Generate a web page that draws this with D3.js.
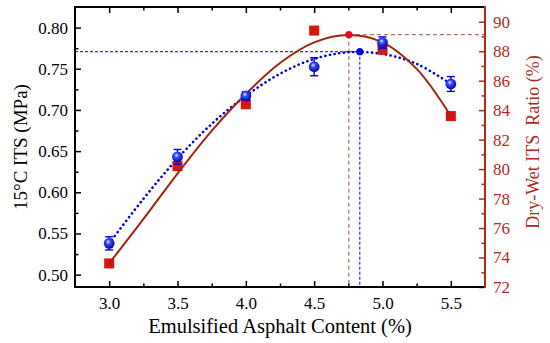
<!DOCTYPE html>
<html><head><meta charset="utf-8">
<script src="https://cdn.jsdelivr.net/npm/d3@7"></script>
<style>
body{margin:0;background:#fff;}
svg text{font-family:"Liberation Serif","DejaVu Serif",serif !important;}
</style></head>
<body><svg id="c" width="550" height="343"></svg>
<script>
// ---- data ----
const content = [3.0, 3.5, 4.0, 4.5, 5.0, 5.5];
const itsValues = [0.538, 0.643, 0.717, 0.7525, 0.7817, 0.7315];
const itsErrors = [0.008, 0.009, 0.005, 0.011, 0.007, 0.009];
const ratioValues = [73.6, 80.2, 84.4, 89.4, 88.1, 83.6];
const fitX = [3.0, 3.25, 3.5, 3.75, 4.0, 4.25, 4.5, 4.75, 5.0, 5.25, 5.5];
const itsFit = [0.538, 0.592, 0.641, 0.683, 0.717, 0.744, 0.762, 0.770, 0.768, 0.756, 0.7315];
const ratioFit = [73.6, 76.6, 79.7, 82.6, 85.1, 87.2, 88.6, 89.1, 88.6, 86.8, 83.6];
const itsPeak = [4.834, 0.7707];
const ratioPeak = [4.754, 89.12];
const xTicks = [3.0, 3.5, 4.0, 4.5, 5.0, 5.5];
const xMinor = [3.25, 3.75, 4.25, 4.75, 5.25];
const leftTicks = [0.50, 0.55, 0.60, 0.65, 0.70, 0.75, 0.80];
const leftMinor = [0.525, 0.575, 0.625, 0.675, 0.725, 0.775];
const rightTicks = [72, 74, 76, 78, 80, 82, 84, 86, 88, 90];
const rightMinor = [73, 75, 77, 79, 81, 83, 85, 87, 89];

const L = 75, R = 485, T = 7, B = 287;
const RED = "#b02a1c", BLUE = "#0000d0";
const FONT = "'Liberation Serif','DejaVu Serif',serif";
const svg = d3.select("#c");
const x = d3.scaleLinear([2.75, 5.75], [L, R]);
const yL = d3.scaleLinear([0.485, 0.825], [B, T]);
const yR = d3.scaleLinear([72, 91], [B, T]);

const defs = svg.append("defs");
const g = defs.append("radialGradient").attr("id","ball").attr("cx","45%").attr("cy","40%").attr("r","60%").attr("fx","40%").attr("fy","35%");
g.append("stop").attr("offset","0%").attr("stop-color","#e8f0ff");
g.append("stop").attr("offset","35%").attr("stop-color","#3a4cff");
g.append("stop").attr("offset","100%").attr("stop-color","#0000b0");

// guide lines
svg.append("line").attr("x1",L).attr("x2",x(itsPeak[0])).attr("y1",yL(itsPeak[1])).attr("y2",yL(itsPeak[1]))
  .attr("stroke",BLUE).attr("stroke-width",1).attr("stroke-dasharray","3 2");
svg.append("line").attr("x1",x(itsPeak[0])).attr("x2",x(itsPeak[0])).attr("y1",yL(itsPeak[1])).attr("y2",B)
  .attr("stroke",BLUE).attr("stroke-width",1).attr("stroke-dasharray","3 2");
svg.append("line").attr("x1",x(ratioPeak[0])).attr("x2",R).attr("y1",yR(ratioPeak[1])).attr("y2",yR(ratioPeak[1]))
  .attr("stroke","#a0522d").attr("stroke-width",1).attr("stroke-dasharray","4 3");
svg.append("line").attr("x1",x(ratioPeak[0])).attr("x2",x(ratioPeak[0])).attr("y1",yR(ratioPeak[1])).attr("y2",B)
  .attr("stroke","#a0522d").attr("stroke-width",1).attr("stroke-dasharray","4 3");

// fit curves
const lineL = d3.line().x((d,i)=>x(fitX[i])).y(d=>yL(d)).curve(d3.curveCatmullRom);
const lineR = d3.line().x((d,i)=>x(fitX[i])).y(d=>yR(d)).curve(d3.curveCatmullRom);
svg.append("path").attr("d",lineL(itsFit)).attr("fill","none").attr("stroke",BLUE)
  .attr("stroke-width",2.6).attr("stroke-linecap","round").attr("stroke-dasharray","0.1 4.6");

// red squares
svg.selectAll("rect.sq").data(ratioValues).join("rect").attr("class","sq")
  .attr("x",(d,i)=>x(content[i])-5).attr("y",d=>yR(d)-5).attr("width",10).attr("height",10)
  .attr("fill","#d8140c");
svg.append("path").attr("d",lineR(ratioFit)).attr("fill","none").attr("stroke","#a3230f").attr("stroke-width",2);

// error bars
const eb = svg.append("g").attr("stroke",BLUE).attr("stroke-width",1.4);
content.forEach((c,i)=>{
  const cx = x(c), y1 = yL(itsValues[i]+itsErrors[i]), y2 = yL(itsValues[i]-itsErrors[i]);
  eb.append("line").attr("x1",cx).attr("x2",cx).attr("y1",y1).attr("y2",y2);
  eb.append("line").attr("x1",cx-4).attr("x2",cx+4).attr("y1",y1).attr("y2",y1);
  eb.append("line").attr("x1",cx-4).attr("x2",cx+4).attr("y1",y2).attr("y2",y2);
});
svg.selectAll("circle.its").data(itsValues).join("circle").attr("class","its")
  .attr("cx",(d,i)=>x(content[i])).attr("cy",d=>yL(d)).attr("r",5.4).attr("fill","url(#ball)");

// peaks
svg.append("circle").attr("cx",x(itsPeak[0])).attr("cy",yL(itsPeak[1])).attr("r",3.6).attr("fill","#0000e0");
svg.append("circle").attr("cx",x(ratioPeak[0])).attr("cy",yR(ratioPeak[1])).attr("r",3.6).attr("fill","#e0101a");

// axes
function style(sel, color){
  sel.attr("font-family",FONT).attr("font-size",17);
  sel.select(".domain").remove();
  sel.selectAll("line").attr("stroke",color).attr("stroke-width",1.5);
  sel.selectAll("text").attr("fill",color).attr("font-family",FONT).attr("font-size",17);
}
const bx = svg.append("g").attr("transform",`translate(0,${B})`)
  .call(d3.axisBottom(x).tickValues(xTicks).tickFormat(d3.format(".1f")).tickSize(-6).tickPadding(10));
style(bx,"#000");
const bxm = svg.append("g").attr("transform",`translate(0,${B})`)
  .call(d3.axisBottom(x).tickValues(xMinor).tickFormat("").tickSize(-3.5));
style(bxm,"#000");
const tx = svg.append("g").attr("transform",`translate(0,${T})`)
  .call(d3.axisTop(x).tickValues(xTicks).tickFormat("").tickSize(-6));
style(tx,"#000");
const txm = svg.append("g").attr("transform",`translate(0,${T})`)
  .call(d3.axisTop(x).tickValues(xMinor).tickFormat("").tickSize(-3.5));
style(txm,"#000");
const ly = svg.append("g").attr("transform",`translate(${L},0)`)
  .call(d3.axisLeft(yL).tickValues(leftTicks).tickFormat(d3.format(".2f")).tickSize(-6).tickPadding(7));
style(ly,"#000");
const lym = svg.append("g").attr("transform",`translate(${L},0)`)
  .call(d3.axisLeft(yL).tickValues(leftMinor).tickFormat("").tickSize(-3.5));
style(lym,"#000");
const ry = svg.append("g").attr("transform",`translate(${R},0)`)
  .call(d3.axisRight(yR).tickValues(rightTicks).tickFormat(d3.format("d")).tickSize(-6).tickPadding(8));
style(ry,RED);
const rym = svg.append("g").attr("transform",`translate(${R},0)`)
  .call(d3.axisRight(yR).tickValues(rightMinor).tickFormat("").tickSize(-3.5));
style(rym,RED);

// frame
svg.append("line").attr("x1",L).attr("x2",R).attr("y1",T).attr("y2",T).attr("stroke","#000").attr("stroke-width",2);
svg.append("line").attr("x1",L).attr("x2",R).attr("y1",B).attr("y2",B).attr("stroke","#000").attr("stroke-width",2);
svg.append("line").attr("x1",L).attr("x2",L).attr("y1",T-1).attr("y2",B+1).attr("stroke","#000").attr("stroke-width",2);
svg.append("line").attr("x1",R).attr("x2",R).attr("y1",T-1).attr("y2",B+1).attr("stroke",RED).attr("stroke-width",2);

// titles
svg.append("text").attr("x",280).attr("y",333).attr("text-anchor","middle")
  .attr("font-family",FONT).attr("font-size",20.5).text("Emulsified Asphalt Content (%)");
svg.append("text").attr("transform",`translate(27,${(T+B)/2}) rotate(-90)`).attr("text-anchor","middle")
  .attr("font-family",FONT).attr("font-size",19).text("15°C ITS (MPa)");
svg.append("text").attr("transform",`translate(539,142) rotate(-90)`).attr("text-anchor","middle")
  .attr("fill",RED).attr("font-family",FONT).attr("font-size",18)
  .text("Dry-Wet ITS\u00A0 Ratio (%)");
</script></body></html>
